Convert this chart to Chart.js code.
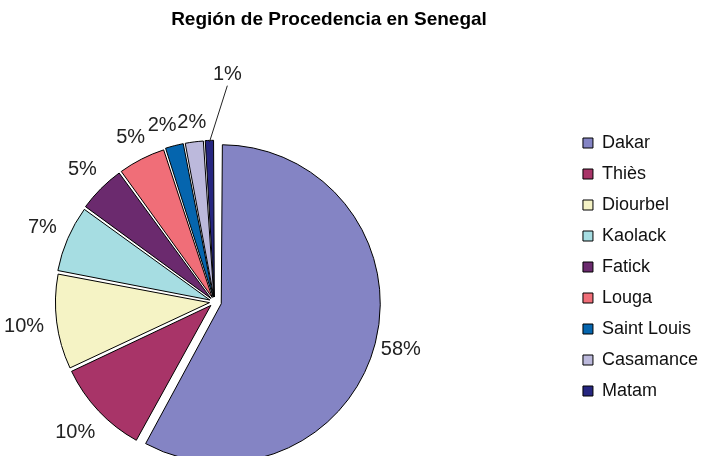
<!DOCTYPE html>
<html>
<head>
<meta charset="utf-8">
<title>Región de Procedencia en Senegal</title>
<script src="https://cdn.jsdelivr.net/npm/chart.js@4"></script>
<style>
  html, body { margin: 0; padding: 0; background: #fff; overflow: hidden; width: 701px; height: 456px; }
  /* canvas is wider/taller than the window so the pie sits left of the middle, like the excel original */
  #wrap { position: absolute; left: -141px; top: 0; width: 849px; height: 483px; }
</style>
</head>
<body>
<div id="wrap"><canvas id="pie"></canvas></div>
<script>
const chartTitle = 'Región de Procedencia en Senegal';
const regions = ['Dakar', 'Thiès', 'Diourbel', 'Kaolack', 'Fatick', 'Louga', 'Saint Louis', 'Casamance', 'Matam'];
const shares = [58, 10, 10, 7, 5, 5, 2, 2, 1];

// excel-ish palette
const sliceColors = ['#8484c4', '#a83468', '#f5f3c5', '#a6dde2', '#6b2a6e', '#f06e78', '#0565ae', '#bcb9dc', '#262680'];
const explode = [28, 20, 20, 20, 20, 20, 20, 20, 20];
// only Matam's label is pulled out with a leader line; Saint Louis nudged so the two 2% don't collide
const labelLift = [0, 0, 0, 0, 0, 0, 0, 0, 48];
const labelShift = [0, 0, 0, 0, 0, 0, -7, 0, 20];

const FONT = '"Liberation Sans", Arial, sans-serif';

const titlePlugin = {
  id: 'sheetTitle',
  afterDraw(chart) {
    const ctx = chart.ctx;
    ctx.save();
    ctx.font = 'bold 19px ' + FONT;
    ctx.fillStyle = '#000';
    ctx.textAlign = 'center';
    ctx.textBaseline = 'middle';
    ctx.fillText(chartTitle, 470, 20);
    ctx.restore();
  }
};

const pctLabels = {
  id: 'pctLabels',
  afterDatasetsDraw(chart) {
    const ctx = chart.ctx;
    const arcs = chart.getDatasetMeta(0).data;
    ctx.save();
    ctx.font = '20px ' + FONT;
    ctx.fillStyle = '#222';
    ctx.strokeStyle = '#222';
    ctx.lineWidth = 1;
    ctx.textAlign = 'center';
    ctx.textBaseline = 'middle';
    arcs.forEach((arc, i) => {
      const p = arc.getProps(['x', 'y', 'startAngle', 'endAngle', 'outerRadius'], true);
      const mid = (p.startAngle + p.endAngle) / 2;
      const cos = Math.cos(mid), sin = Math.sin(mid);
      const text = shares[i] + '%';
      const halfW = ctx.measureText(text).width / 2;
      const dist = p.outerRadius + 19 + halfW * Math.abs(cos) + 8 * Math.abs(sin) + labelLift[i];
      const lx = p.x + cos * dist + labelShift[i];
      const ly = p.y + sin * dist;
      if (labelLift[i]) {
        const edge = p.outerRadius + 8;
        ctx.beginPath();
        ctx.moveTo(p.x + cos * edge, p.y + sin * edge);
        ctx.lineTo(lx, ly + 11);
        ctx.stroke();
      }
      ctx.fillText(text, lx, ly);
    });
    ctx.restore();
  }
};

new Chart(document.getElementById('pie'), {
  type: 'pie',
  data: {
    labels: regions,
    datasets: [{
      data: shares,
      backgroundColor: sliceColors,
      borderColor: '#000',
      borderWidth: 1,
      offset: explode
    }]
  },
  options: {
    responsive: true,
    maintainAspectRatio: false,
    animation: false,
    events: [],
    radius: 152,
    layout: {
      padding: { top: 121, bottom: 0, left: 0, right: 0 }
    },
    plugins: {
      title: { display: false },
      tooltip: { enabled: false },
      legend: {
        position: 'right',
        align: 'start',
        labels: {
          boxWidth: 10,
          boxHeight: 10,
          padding: 13,
          color: '#111',
          font: { family: FONT, size: 18 }
        }
      }
    }
  },
  plugins: [titlePlugin, pctLabels]
});
</script>
</body>
</html>
